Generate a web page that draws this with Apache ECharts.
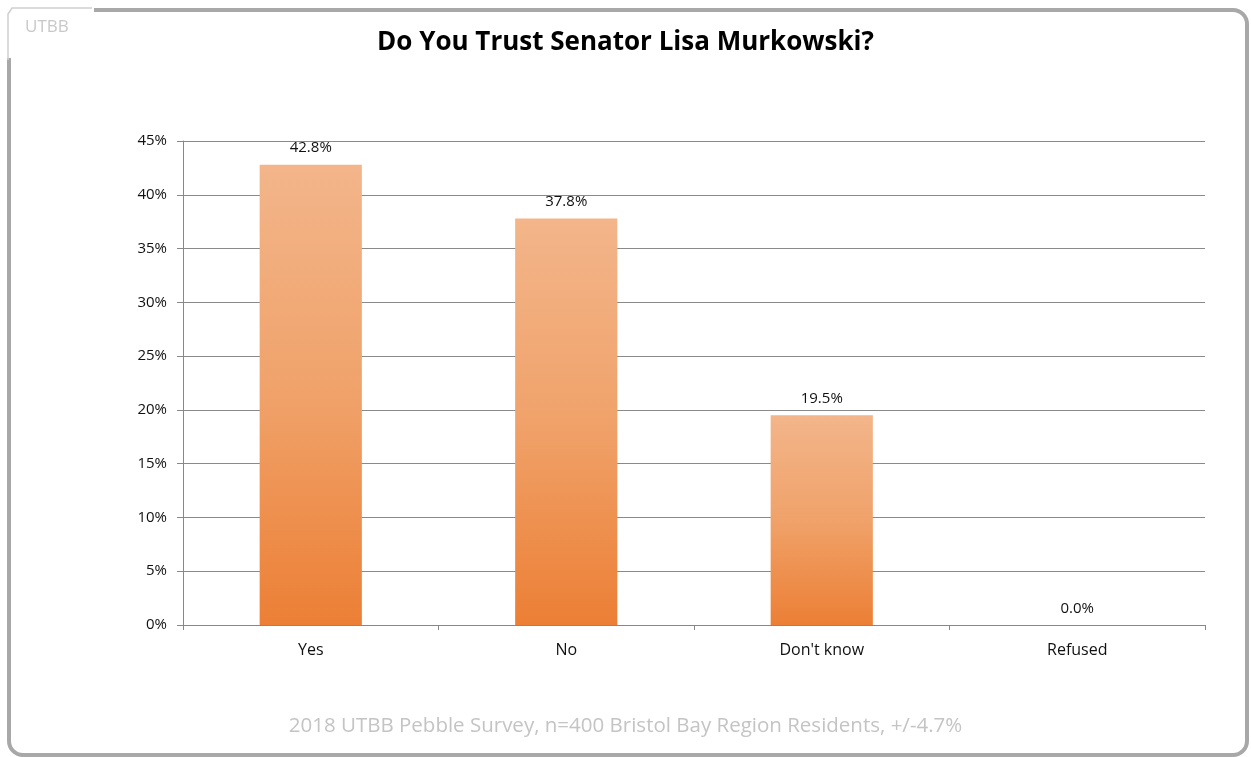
<!DOCTYPE html>
<html><head><meta charset="utf-8">
<script src="https://cdn.jsdelivr.net/npm/echarts@6/dist/echarts.min.js"></script>
<style>html,body{margin:0;padding:0;background:#fff}#c{width:1251px;height:757px}</style>
</head><body><div id="c"></div>
<script>
const categories = ["Yes", "No", "Don't know", "Refused"];
const values = [42.8, 37.8, 19.5, 0.0];
const yTicks = [0, 5, 10, 15, 20, 25, 30, 35, 40, 45];
const titleText = "Do You Trust Senator Lisa Murkowski?";
const footerText = "2018 UTBB Pebble Survey, n=400 Bristol Bay Region Residents, +/-4.7%";
const tabText = "UTBB";

const chart = echarts.init(document.getElementById('c'));
const T = '"Open Sans", sans-serif';
chart.setOption({
  animation: false,
  backgroundColor: '#fff',
  title: {
    text: titleText, left: 'center', top: 25,
    textStyle: {fontFamily: T, fontSize: 26, fontWeight: 'bold', color: '#000'}
  },
  graphic: [
    {type: 'rect', shape: {x: 9, y: 10, width: 1238, height: 745, r: 14},
     style: {fill: 'none', stroke: '#a8a8a8', lineWidth: 4}, z: -1},
    {type: 'rect', shape: {x: 4, y: 4, width: 90, height: 54}, style: {fill: '#fff'}, z: 0},
    {type: 'polyline', shape: {points: [[8, 60], [8, 14], [12, 8], [92, 8]]},
     style: {stroke: '#cfcfcf', lineWidth: 1.5, fill: 'none'}, z: 1},
    {type: 'text', left: 25, top: 19, style: {text: tabText, fontFamily: T, fontSize: 17, fill: '#c8c8c8'}},
    {type: 'text', left: 'center', top: 716, style: {text: footerText, fontFamily: T, fontSize: 20.5, fill: '#c4c4c4'}}
  ],
  grid: {left: 183, right: 46, top: 141, bottom: 132, containLabel: false},
  xAxis: {
    type: 'category', data: categories,
    axisLine: {lineStyle: {color: '#888', width: 1}},
    axisTick: {show: true, length: 5, lineStyle: {color: '#888'}},
    axisLabel: {fontFamily: T, fontSize: 16, color: '#111', margin: 17}
  },
  yAxis: {
    type: 'value', min: 0, max: 45, interval: 5,
    axisLine: {show: true, lineStyle: {color: '#888', width: 1}},
    axisTick: {show: true, length: 6, lineStyle: {color: '#888'}},
    splitLine: {lineStyle: {color: '#8a8a8a', width: 1}},
    axisLabel: {fontFamily: T, fontSize: 15, color: '#111', margin: 16,
      formatter: v => yTicks.includes(v) ? v + '%' : ''}
  },
  series: [{
    type: 'bar', data: values, barWidth: '40%',
    itemStyle: {
      color: new echarts.graphic.LinearGradient(0, 0, 0, 1, [
        {offset: 0, color: '#f3b58a'}, {offset: 0.5, color: '#f0a26a'}, {offset: 1, color: '#ec7f35'}
      ])
    },
    label: {show: true, position: 'top', distance: 9, fontFamily: T, fontSize: 15, color: '#111',
      formatter: p => p.value.toFixed(1) + '%'}
  }]
});
</script></body></html>
